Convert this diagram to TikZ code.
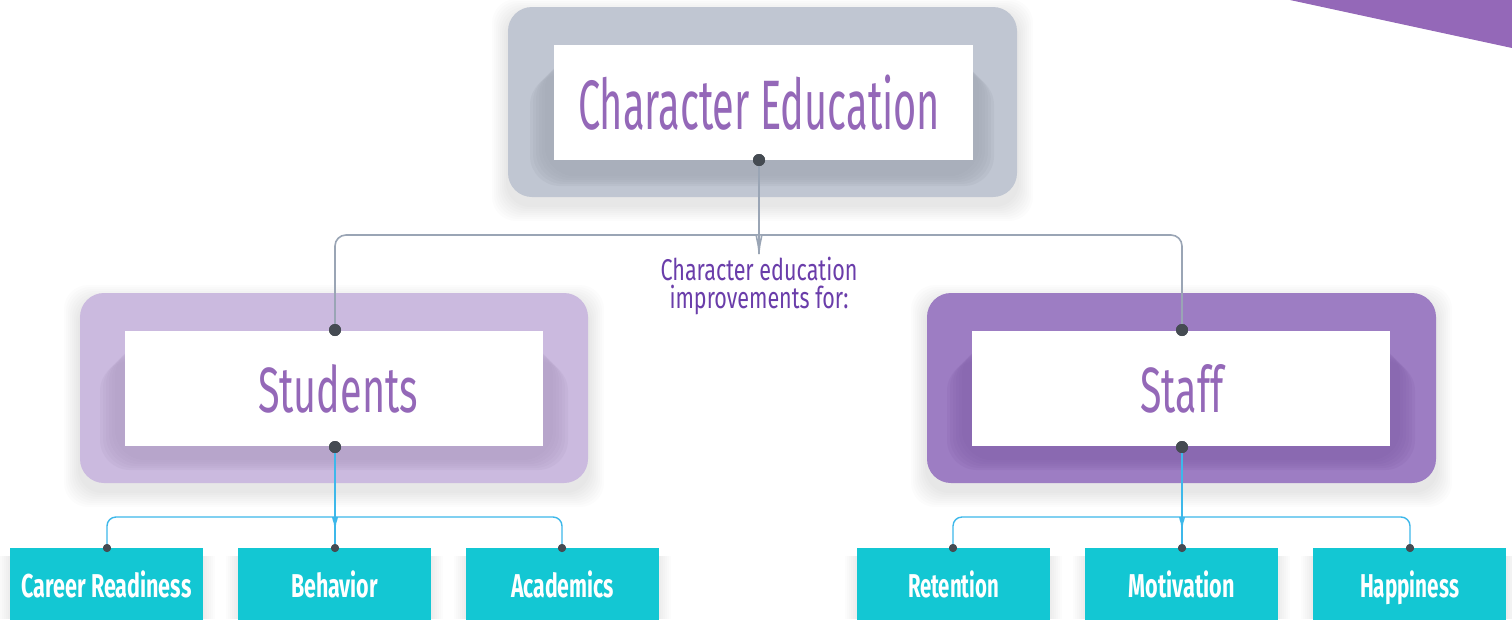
\documentclass[tikz,border=0pt]{standalone}
\usepackage{fontspec}
\setmainfont{Fira Sans}
\usepackage{graphicx}
\definecolor{tri}{HTML}{9468B8}
\definecolor{titletxt}{HTML}{9468B8}
\definecolor{subtxt}{HTML}{6A3DAA}
\definecolor{topframe}{HTML}{C0C6D2}
\definecolor{topshade}{HTML}{A4AAB6}
\definecolor{stuframe}{HTML}{CBBADF}
\definecolor{stushade}{HTML}{B4A2C8}
\definecolor{stfframe}{HTML}{9D7DC3}
\definecolor{stfshade}{HTML}{8766AE}
\definecolor{grayline}{HTML}{9AA5B5}
\definecolor{blueline}{HTML}{3DB8EA}
\definecolor{dotc}{HTML}{454B52}
\definecolor{cyanbox}{HTML}{13C7D3}
\newcommand\fitw[3]{\resizebox{#1pt}{\height}{\fontsize{#2pt}{#2pt}\selectfont #3}}
\newcommand\softshadow[4]{%
  \foreach \i in {1,...,8}{%
    \fill[black,opacity=0.010,rounded corners=24pt] (#1-2*\i,#2-2*\i+8) rectangle (#3+2*\i,#4+2*\i+8);}}
\newcommand\innershade[5]{%
  \foreach \i in {0,...,5}{%
    \fill[#5,opacity=0.22,rounded corners=30pt] (#1-3*\i,#2+3*\i) rectangle (#3+3*\i,#4+2*\i);}}
\begin{document}
\begin{tikzpicture}[x=1pt,y=-1pt,
  whitebox/.style={fill=white, inner sep=0pt, minimum width=418pt, minimum height=115pt},
  leaf/.style={fill=cyanbox, inner sep=0pt, minimum width=193pt, minimum height=82pt, anchor=north, text=white},
  bigdot/.style={circle, fill=dotc, inner sep=0pt, minimum size=12pt},
  smalldot/.style={circle, fill=dotc, inner sep=0pt, minimum size=8pt},
  gline/.style={draw=grayline, line width=1.6pt, rounded corners=11pt},
  bline/.style={draw=blueline, line width=1.4pt, rounded corners=9pt},
]
\useasboundingbox (0,0) rectangle (1512,619);
\fill[white] (0,0) rectangle (1512,619);
% corner triangle
\fill[tri] (1290,0) -- (1512,0) -- (1512,48) -- cycle;

% soft outer shadows
\softshadow{508}{7}{1017}{197}
\softshadow{80}{293}{588}{483}
\softshadow{927}{293}{1436}{483}
\foreach \cx in {106.5,334.5,562.5,953.5,1181.5,1409.5}{%
  \foreach \i in {1,...,6}{\fill[black,opacity=0.010] (\cx-96.5-2*\i,556) rectangle (\cx+96.5+2*\i,619);}}

% frames
\fill[topframe,rounded corners=24pt] (508,7) rectangle (1017,197);
\innershade{545}{60}{979}{176}{topshade}
\fill[stuframe,rounded corners=24pt] (80,293) rectangle (588,483);
\innershade{115}{346}{553}{460}{stushade}
\fill[stfframe,rounded corners=24pt] (927,293) rectangle (1436,483);
\innershade{962}{346}{1400}{460}{stfshade}

% white boxes
\node[whitebox, minimum width=419pt] (top) at (763.5,102.5) {\hspace*{-9pt}\color{titletxt}\fitw{362}{70}{Character Education}};
\node[whitebox] (stu) at (334,388.5) {\hspace*{8pt}\color{titletxt}\fitw{160}{64}{Students}};
\node[whitebox] (stf) at (1181,388.5) {\hspace*{2pt}\color{titletxt}\fitw{83}{64}{Staff}};

% subtitle
\node[text=subtxt, inner sep=0pt] (sub1) at (759,269) {\fitw{197}{30}{Character education}};
\node[text=subtxt, inner sep=0pt] (sub2) at (759,300) {\fitw{179}{30}{improvements for:}};

% leaf boxes
\node[leaf] (l1) at (106.5,548) {\fitw{170}{33}{\bfseries\strut Career Readiness}};
\node[leaf] (l2) at (334.5,548) {\fitw{87}{33}{\bfseries\strut Behavior}};
\node[leaf] (l3) at (562.5,548) {\fitw{103}{33}{\bfseries\strut Academics}};
\node[leaf] (r1) at (953.5,548) {\fitw{91}{33}{\bfseries\strut Retention}};
\node[leaf] (r2) at (1181.5,548) {\fitw{106}{33}{\bfseries\strut Motivation}};
\node[leaf] (r3) at (1409.5,548) {\fitw{99}{33}{\bfseries\strut Happiness}};

% dots
\node[bigdot] (dtop) at (759,160) {};
\node[bigdot] (dstuT) at (335,330) {};
\node[bigdot] (dstuB) at (335,447) {};
\node[bigdot] (dstfT) at (1182,330) {};
\node[bigdot] (dstfB) at (1182,447) {};
\node[smalldot] (dl1) at (107,548) {};
\node[smalldot] (dl2) at (335,548) {};
\node[smalldot] (dl3) at (562,548) {};
\node[smalldot] (dr1) at (953,548) {};
\node[smalldot] (dr2) at (1182,548) {};
\node[smalldot] (dr3) at (1410,548) {};

% gray connectors
\coordinate (gs) at (759,254);
\draw[gline] (dtop.center) -- (gs);
\draw[gline] (dstuT.center) |- (746,235) .. controls (755,235) and (759,243) .. (gs);
\draw[gline] (dstfT.center) |- (772,235) .. controls (763,235) and (759,243) .. (gs);
% blue connectors left
\coordinate (bs) at (335,527);
\draw[bline] (dstuB.center) -- (dl2.center);
\draw[bline] (dl1.center) |- (325,517) .. controls (331,517) and (335,521) .. (bs);
\draw[bline] (dl3.center) |- (345,517) .. controls (339,517) and (335,521) .. (bs);
% blue connectors right
\coordinate (bt) at (1182,527);
\draw[bline] (dstfB.center) -- (dr2.center);
\draw[bline] (dr1.center) |- (1172,517) .. controls (1178,517) and (1182,521) .. (bt);
\draw[bline] (dr3.center) |- (1192,517) .. controls (1186,517) and (1182,521) .. (bt);
% redraw dots on top
\foreach \d in {dtop,dstuT,dstuB,dstfT,dstfB}{\fill[dotc] (\d) circle (6pt);}
\foreach \d in {dl1,dl2,dl3,dr1,dr2,dr3}{\fill[dotc] (\d) circle (4pt);}
\end{tikzpicture}
\end{document}
